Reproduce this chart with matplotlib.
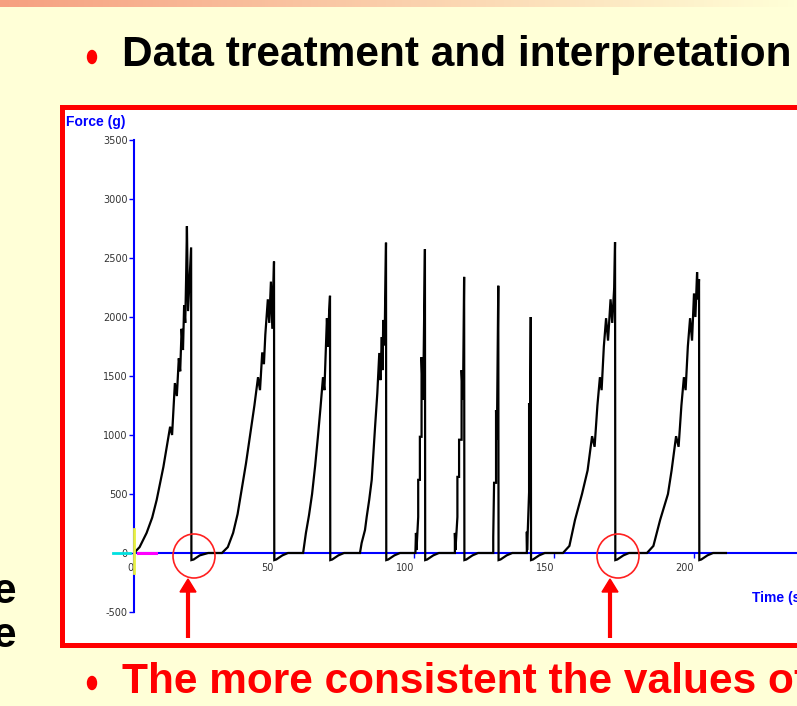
import matplotlib
matplotlib.use('Agg')
import matplotlib.pyplot as plt
import numpy as np
from matplotlib.patches import Rectangle, Ellipse, Polygon

# ---------------- data (time in s, force in g) ----------------
cycle1_t = [0.0, 2.0, 4.5, 6.5, 8.1, 10.5, 12.9, 13.6, 14.6, 15.3, 16.0, 16.5, 17.0, 17.5,
            17.9, 18.3, 18.6, 18.9, 19.3, 19.6, 20.4, 20.5, 21.3, 23.5, 26.5]
cycle1_f = [0, 50, 170, 300, 450, 730, 1070, 1000, 1440, 1330, 1650, 1540, 1900, 1720,
            2100, 1950, 2310, 2770, 2050, 2200, 2590, -60, -55, -20, 0]

cycle2_t = [31.4, 33.5, 35.4, 37.0, 38.2, 40.0, 41.4, 43.0, 44.3, 45.0, 45.8, 46.4, 46.9,
            47.8, 48.3, 48.9, 49.4, 50.0, 50.1, 50.8, 53.0, 55.0]
cycle2_f = [0, 50, 170, 330, 500, 760, 990, 1250, 1490, 1380, 1700, 1600, 1850,
            2150, 1950, 2300, 1900, 2470, -60, -55, -20, 0]

cycle3_t = [60.4, 61.4, 62.5, 63.6, 64.7, 65.7, 66.6, 67.5, 68.0, 68.9, 69.3, 69.7, 70.0,
            70.1, 70.8, 73.0, 75.0]
cycle3_f = [0, 170, 320, 500, 740, 990, 1230, 1490, 1380, 1990, 1750, 2050, 2180,
            -60, -55, -20, 0]

cycle4_t = [80.7, 81.3, 82.5, 83.1, 84.0, 84.9, 85.5, 86.1, 86.9, 87.6, 88.0, 88.5, 88.8,
            89.0, 89.5, 89.7, 90.0, 90.1, 90.8, 93.0, 95.0]
cycle4_f = [0, 85, 195, 305, 450, 620, 850, 1070, 1355, 1695, 1465, 1830, 1550,
            1975, 1760, 2145, 2630, -60, -55, -20, 0]

cycle5_t = [100.5, 100.7, 100.9, 101.5, 101.5, 102.1, 102.1, 102.7, 102.7, 103.2, 103.4,
            103.9, 104.0, 104.7, 106.9, 108.9]
cycle5_f = [0, 170, 25, 305, 620, 620, 985, 985, 1660, 1300, 1550,
            2575, -60, -55, -20, 0]

cycle6_t = [114.6, 114.6, 114.8, 115.5, 115.5, 116.1, 116.1, 117.0, 117.0, 117.5, 117.9,
            118.0, 118.7, 120.9, 122.9]
cycle6_f = [0, 170, 25, 305, 645, 645, 960, 960, 1550, 1300, 2340,
            -60, -55, -20, 0]

cycle7_t = [128.3, 128.3, 128.6, 129.3, 129.3, 129.6, 130.1, 130.2, 130.9, 133.1, 135.1]
cycle7_f = [0, 135, 595, 595, 1210, 960, 2265, -60, -55, -20, 0]

cycle8_t = [140.3, 140.3, 140.4, 141.1, 141.1, 141.4, 141.7, 141.8, 142.5, 144.7, 146.7]
cycle8_f = [0, 180, 25, 515, 1270, 875, 2000, -60, -55, -20, 0]

cycle9_t = [153.2, 155.5, 157.5, 160.0, 162.0, 163.6, 164.5, 165.5, 166.4, 167.0, 167.8,
            168.6, 169.3, 170.2, 170.8, 171.5, 171.8, 171.9, 172.6, 174.8, 176.8]
cycle9_f = [0, 60, 280, 500, 700, 990, 900, 1250, 1490, 1380, 1750,
            1990, 1800, 2150, 1950, 2250, 2635, -60, -55, -20, 0]

cycle10_t = [183.2, 185.5, 187.9, 190.7, 192.0, 193.6, 194.5, 195.5, 196.4, 197.0, 197.8,
             198.6, 199.3, 200.0, 200.5, 201.1, 201.4, 201.8, 201.9, 202.6, 204.8, 206.8, 211.4]
cycle10_f = [0, 60, 280, 500, 700, 990, 900, 1250, 1490, 1380, 1750,
             1990, 1800, 2200, 2000, 2380, 2150, 2320, -60, -55, -20, 0, 0]

y_ticks = [-500, 0, 500, 1000, 1500, 2000, 2500, 3000, 3500]
x_ticks = [0, 50, 100, 150, 200]
x_tick_labels = ['0', '50', '100', '150', '200']
title_text = 'Data treatment and interpretation'
bottom_text = 'The more consistent the values of'
y_label = 'Force (g)'
x_label = 'Time (s)'

# ---------------- figure ----------------
W, H = 797, 706
BG = '#FFFFD7'
fig = plt.figure(figsize=(W / 100, H / 100), dpi=100)
fig.patch.set_facecolor(BG)

bg = fig.add_axes([0, 0, 1, 1], zorder=0)
grad = np.linspace(0, 1, 256)
c0 = np.array([246, 160, 128]) / 255
c1 = np.array([255, 255, 215]) / 255
img = (c0[None, :] * (1 - grad[:, None]) + c1[None, :] * grad[:, None])[None, :, :]
bg.imshow(img, extent=[0, W, 7, 0], aspect='auto')
bg.set_xlim(0, W)
bg.set_ylim(H, 0)
bg.axis('off')
bg.add_patch(Rectangle((62.5, 107), 800, 538, facecolor='white', edgecolor='red', lw=3.6))

# data axes
x0, x1 = 134, W
ytop, ybot = 140, 612
px_per_s = 2.8
ax = fig.add_axes([x0 / W, (H - ybot) / H, (x1 - x0) / W, (ybot - ytop) / H], zorder=1)
ax.set_facecolor('none')
ax.set_xlim(0, (x1 - x0) / px_per_s)
ax.set_ylim(-500, 3500)

t_all = np.concatenate([cycle1_t, cycle2_t, cycle3_t, cycle4_t, cycle5_t,
                        cycle6_t, cycle7_t, cycle8_t, cycle9_t, cycle10_t])
f_all = np.concatenate([cycle1_f, cycle2_f, cycle3_f, cycle4_f, cycle5_f,
                        cycle6_f, cycle7_f, cycle8_f, cycle9_f, cycle10_f])

for s in ['top', 'right']:
    ax.spines[s].set_visible(False)
ax.spines['left'].set_color('#0000FF')
ax.spines['left'].set_linewidth(1.5)
ax.spines['bottom'].set_position(('data', 0))
ax.spines['bottom'].set_color('#0000FF')
ax.spines['bottom'].set_linewidth(1.5)
ax.spines['bottom'].set_zorder(1)

ax.plot(t_all, f_all, color='black', lw=1.6, zorder=3, solid_joinstyle='miter')

# cursor markers at the origin
ax.plot([-7.5, -1.5], [0, 0], color='#00E0E0', lw=2, clip_on=False, zorder=4)
ax.plot([1.5, 8], [0, 0], color='#FF00FF', lw=2.2, clip_on=False, zorder=4)
ax.plot([0, 0], [-170, 200], color='#E8F040', lw=2, clip_on=False, zorder=4)

ax.set_yticks(y_ticks)
ax.set_yticklabels([str(v) for v in y_ticks])
ax.set_xticks(x_ticks)
ax.set_xticklabels(x_tick_labels)
ax.tick_params(axis='both', colors='#0000FF', labelcolor='#333333', labelsize=7,
               length=3.5, width=1, direction='out')
ax.tick_params(axis='y', pad=1)
ax.tick_params(axis='x', pad=4)
for lab in ax.get_xticklabels():
    lab.set_ha('right')

# foreground overlay
fg = fig.add_axes([0, 0, 1, 1], zorder=3)
fg.set_xlim(0, W)
fg.set_ylim(H, 0)
fg.axis('off')
fg.patch.set_alpha(0)

font = 'Liberation Sans'
big = 30.5
fg.add_patch(Ellipse((92, 57), 9, 13, color='#FF0000'))
fg.text(122, 66, title_text, fontsize=big, fontweight='bold', family=font,
        ha='left', va='baseline', color='black')
fg.add_patch(Ellipse((92, 683), 9, 13, color='#FF0000'))
fg.text(122, 693, bottom_text, fontsize=big, fontweight='bold', family=font,
        ha='left', va='baseline', color='#FF0000')
fg.text(16, 603, 'e', fontsize=big, fontweight='bold', family=font,
        ha='right', va='baseline', color='black')
fg.text(16, 647, 'e', fontsize=big, fontweight='bold', family=font,
        ha='right', va='baseline', color='black')

fg.text(66, 126, y_label, fontsize=10, fontweight='bold', family=font,
        ha='left', va='baseline', color='#0000FF')
fg.text(752, 602, x_label, fontsize=10, fontweight='bold', family=font,
        ha='left', va='baseline', color='#0000FF')

# highlight circles and arrows
for cx, ax_x in [(194, 188), (618, 610)]:
    fg.add_patch(Ellipse((cx, 556), 42, 44, fill=False, edgecolor='#FF2020', lw=1.2))
    fg.plot([ax_x, ax_x], [638, 590], color='#FF0000', lw=3, solid_capstyle='butt')
    fg.add_patch(Polygon([(ax_x - 8, 592), (ax_x + 8, 592), (ax_x, 579)],
                         closed=True, color='#FF0000'))

fig.savefig('out.png', dpi=100, facecolor=BG)
